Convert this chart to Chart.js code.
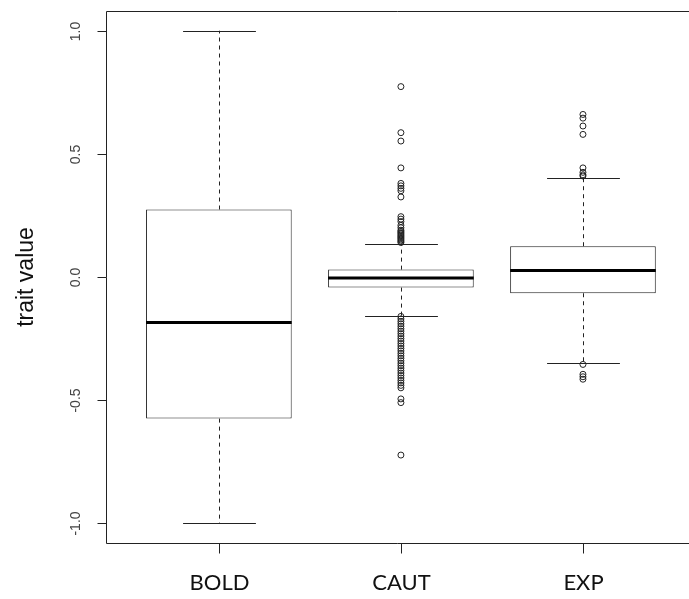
<!DOCTYPE html>
<html lang="en">
<head>
    <meta charset="UTF-8">
    <title>trait value boxplot</title>
    <script src="https://cdn.jsdelivr.net/npm/chart.js"></script>
    <style>
        * {
            margin: 0;
            padding: 0;
            box-sizing: border-box;
        }
        body {
            background-color: #fff;
            overflow: hidden;
        }
        .chart-container {
            position: relative;
            width: 689px;
            height: 599px;
        }
    </style>
</head>
<body>
    <div class="chart-container">
        <canvas id="boxChart"></canvas>
    </div>

    <script>
        const groups = ['BOLD', 'CAUT', 'EXP'];
        const q1 = [-0.575, -0.043, -0.066];
        const medians = [-0.185, -0.004, 0.026];
        const q3 = [0.274, 0.030, 0.125];
        const whiskerLow = [-1.0, -0.157, -0.348];
        const whiskerHigh = [1.0, 0.136, 0.402];
        const yTicks = [-1.0, -0.5, 0.0, 0.5, 1.0];

        const outliersCaut = [
            0.773, 0.586, 0.552, 0.443, 0.38, 0.37, 0.36, 0.35, 0.325,
            0.245, 0.235, 0.225, 0.21, 0.2, 0.19, 0.185, 0.18, 0.175, 0.17,
            0.165, 0.16, 0.155, 0.15, 0.145, 0.14,
            -0.16, -0.17, -0.18, -0.19, -0.2, -0.21, -0.22, -0.23, -0.24,
            -0.25, -0.26, -0.27, -0.28, -0.29, -0.3, -0.31, -0.32, -0.33,
            -0.34, -0.35, -0.36, -0.37, -0.38, -0.39, -0.4, -0.41, -0.42,
            -0.43, -0.44, -0.45, -0.495, -0.51, -0.723
        ];
        const outliersExp = [
            0.66, 0.645, 0.613, 0.579, 0.443, 0.425, 0.415, 0.41,
            -0.355, -0.395, -0.405, -0.415
        ];

        const outlierPoints = [];
        outliersCaut.forEach(v => outlierPoints.push({ x: 2, y: v }));
        outliersExp.forEach(v => outlierPoints.push({ x: 3, y: v }));

        const boxPlugin = {
            id: 'boxExtras',
            beforeDatasetsDraw(chart) {
                const ctx = chart.ctx;
                const x = chart.scales.x;
                const y = chart.scales.y;
                const unit = x.getPixelForValue(1) - x.getPixelForValue(0);
                ctx.save();
                ctx.strokeStyle = '#222';
                ctx.lineWidth = 1;
                groups.forEach((g, i) => {
                    const cx = Math.round(x.getPixelForValue(i + 1)) + 0.5;
                    // dashed whiskers
                    ctx.setLineDash([4, 4]);
                    ctx.beginPath();
                    ctx.moveTo(cx, y.getPixelForValue(q3[i]));
                    ctx.lineTo(cx, y.getPixelForValue(whiskerHigh[i]));
                    ctx.moveTo(cx, y.getPixelForValue(q1[i]));
                    ctx.lineTo(cx, y.getPixelForValue(whiskerLow[i]));
                    ctx.stroke();
                    // caps
                    ctx.setLineDash([]);
                    const hw = unit * 0.2;
                    ctx.beginPath();
                    [whiskerHigh[i], whiskerLow[i]].forEach(v => {
                        const py = Math.round(y.getPixelForValue(v)) + 0.5;
                        ctx.moveTo(cx - hw, py);
                        ctx.lineTo(cx + hw, py);
                    });
                    ctx.stroke();
                });
                ctx.restore();
            },
            afterDatasetsDraw(chart) {
                const ctx = chart.ctx;
                const x = chart.scales.x;
                const y = chart.scales.y;
                const unit = x.getPixelForValue(1) - x.getPixelForValue(0);
                ctx.save();
                ctx.strokeStyle = '#000';
                ctx.lineWidth = 3;
                groups.forEach((g, i) => {
                    const cx = x.getPixelForValue(i + 1);
                    const py = y.getPixelForValue(medians[i]);
                    ctx.beginPath();
                    ctx.moveTo(cx - unit * 0.4, py);
                    ctx.lineTo(cx + unit * 0.4, py);
                    ctx.stroke();
                });
                ctx.restore();
            },
            afterDraw(chart) {
                const ctx = chart.ctx;
                const x = chart.scales.x;
                const y = chart.scales.y;
                const a = chart.chartArea;
                const l = Math.round(a.left) + 0.5;
                const t = Math.round(a.top) + 0.5;
                const b = Math.round(a.bottom) + 0.5;
                ctx.save();
                ctx.strokeStyle = '#222';
                ctx.lineWidth = 1;
                ctx.beginPath();
                ctx.moveTo(chart.width, t);
                ctx.lineTo(l, t);
                ctx.lineTo(l, b);
                ctx.lineTo(chart.width, b);
                ctx.stroke();

                // y ticks and rotated labels
                ctx.fillStyle = '#444';
                ctx.font = '14px "Liberation Sans", Arial, sans-serif';
                ctx.textAlign = 'center';
                ctx.textBaseline = 'middle';
                yTicks.forEach(v => {
                    const py = Math.round(y.getPixelForValue(v)) + 0.5;
                    ctx.beginPath();
                    ctx.moveTo(l, py);
                    ctx.lineTo(l - 9, py);
                    ctx.stroke();
                    ctx.save();
                    ctx.translate(l - 30, py);
                    ctx.rotate(-Math.PI / 2);
                    ctx.fillText(v.toFixed(1), 0, 0);
                    ctx.restore();
                });

                // x ticks and labels
                ctx.fillStyle = '#111';
                ctx.font = '22px Lato, "Open Sans", sans-serif';
                groups.forEach((g, i) => {
                    const px = Math.round(x.getPixelForValue(i + 1)) + 0.5;
                    ctx.beginPath();
                    ctx.moveTo(px, b);
                    ctx.lineTo(px, b + 10);
                    ctx.stroke();
                    ctx.fillText(g, px, 583);
                });

                // axis title
                ctx.save();
                ctx.font = '23px "Liberation Sans", Arial, sans-serif';
                ctx.translate(27, (a.top + a.bottom) / 2);
                ctx.rotate(-Math.PI / 2);
                ctx.fillText('trait value', 0, 0);
                ctx.restore();
                ctx.restore();
            }
        };

        document.addEventListener('DOMContentLoaded', () => {
            const ctx = document.getElementById('boxChart').getContext('2d');
            new Chart(ctx, {
                type: 'bar',
                data: {
                    datasets: [{
                        label: 'box',
                        data: groups.map((g, i) => ({ x: i + 1, y: [q1[i], q3[i]] })),
                        backgroundColor: '#fff',
                        borderColor: '#222',
                        borderWidth: 1,
                        borderSkipped: false,
                        barPercentage: 0.8,
                        categoryPercentage: 1.0
                    }, {
                        type: 'scatter',
                        label: 'outliers',
                        data: outlierPoints,
                        pointStyle: 'circle',
                        pointRadius: 3,
                        pointBorderWidth: 1,
                        pointBackgroundColor: 'rgba(255,255,255,0)',
                        pointBorderColor: '#222'
                    }]
                },
                options: {
                    responsive: true,
                    maintainAspectRatio: false,
                    animation: false,
                    layout: {
                        padding: { left: 106, top: 11, right: 0, bottom: 56 }
                    },
                    plugins: {
                        legend: { display: false },
                        tooltip: { enabled: false }
                    },
                    scales: {
                        x: {
                            type: 'linear',
                            min: 0.38,
                            max: 3.555,
                            offset: false,
                            display: false,
                            // one tick per group so bar widths follow the group spacing
                            afterBuildTicks: scale => {
                                scale.ticks = groups.map((g, i) => ({ value: i + 1 }));
                            }
                        },
                        y: {
                            min: -1.08,
                            max: 1.08,
                            display: false
                        }
                    }
                },
                plugins: [boxPlugin]
            });
        });
    </script>
</body>
</html>
